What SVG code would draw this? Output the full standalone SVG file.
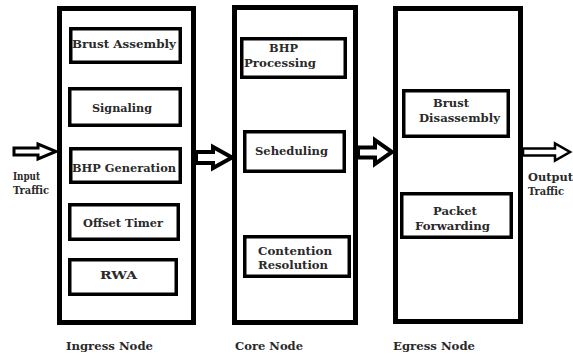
<svg xmlns="http://www.w3.org/2000/svg" width="573" height="358" viewBox="0 0 573 358">
<style>
.outer{fill:#fff;stroke:#000;stroke-width:5}
.inner{fill:#fff;stroke:#000;stroke-width:3.5}
.arrow{fill:#fff;stroke:#000;stroke-linejoin:miter}
.t{font-family:'DejaVu Serif',serif;font-weight:bold;font-size:11.5px;fill:#2a2a2a}
</style>
<rect width="573" height="358" fill="#fff"/>
<g id="ingress">
<rect class="outer" x="59.5" y="8.5" width="134" height="314"/>
<text class="t" x="66" y="350" textLength="87" lengthAdjust="spacingAndGlyphs">Ingress Node</text>
</g>
<g id="brust-assembly">
<rect class="inner" x="70.75" y="28.75" width="109.5" height="33.5"/>
<text class="t" x="72" y="48" textLength="104" lengthAdjust="spacingAndGlyphs">Brust Assembly</text>
</g>
<g id="signaling">
<rect class="inner" x="69.75" y="88.75" width="110.5" height="36.5"/>
<text class="t" x="92" y="112" textLength="60" lengthAdjust="spacingAndGlyphs">Signaling</text>
</g>
<g id="bhp-generation">
<rect class="inner" x="70.75" y="148.75" width="109.5" height="33.5"/>
<text class="t" x="72" y="172" textLength="104" lengthAdjust="spacingAndGlyphs">BHP Generation</text>
</g>
<g id="offset-timer">
<rect class="inner" x="69.75" y="204.75" width="108.5" height="34.5"/>
<text class="t" x="83" y="227" textLength="80" lengthAdjust="spacingAndGlyphs">Offset Timer</text>
</g>
<g id="rwa">
<rect class="inner" x="69.75" y="259.75" width="106.5" height="34.5"/>
<text class="t" x="100" y="279" textLength="37" lengthAdjust="spacingAndGlyphs">RWA</text>
</g>
<g id="core">
<rect class="outer" x="234.5" y="7.5" width="121" height="315"/>
<text class="t" x="235" y="350" textLength="68" lengthAdjust="spacingAndGlyphs">Core Node</text>
</g>
<g id="bhp-processing">
<rect class="inner" x="241.75" y="38.75" width="103.5" height="38.5"/>
<text class="t" x="269" y="52" textLength="29" lengthAdjust="spacingAndGlyphs">BHP</text>
<text class="t" x="244" y="67" textLength="72" lengthAdjust="spacingAndGlyphs">Processing</text>
</g>
<g id="seheduling">
<rect class="inner" x="244.75" y="131.75" width="99.5" height="39.5"/>
<text class="t" x="255" y="155" textLength="73" lengthAdjust="spacingAndGlyphs">Seheduling</text>
</g>
<g id="contention-resolution">
<rect class="inner" x="244.75" y="236.75" width="104.5" height="39.5"/>
<text class="t" x="258" y="255" textLength="74" lengthAdjust="spacingAndGlyphs">Contention</text>
<text class="t" x="258" y="269" textLength="70" lengthAdjust="spacingAndGlyphs">Resolution</text>
</g>
<g id="egress">
<rect class="outer" x="395.5" y="8.5" width="125" height="313"/>
<text class="t" x="393" y="350" textLength="82" lengthAdjust="spacingAndGlyphs">Egress Node</text>
</g>
<g id="brust-disassembly">
<rect class="inner" x="403.75" y="90.75" width="104.5" height="45.5"/>
<text class="t" x="433" y="107" textLength="36" lengthAdjust="spacingAndGlyphs">Brust</text>
<text class="t" x="419" y="122" textLength="81" lengthAdjust="spacingAndGlyphs">Disassembly</text>
</g>
<g id="packet-forwarding">
<rect class="inner" x="401.75" y="193.75" width="109.5" height="43.5"/>
<text class="t" x="433" y="215" textLength="44" lengthAdjust="spacingAndGlyphs">Packet</text>
<text class="t" x="415" y="230" textLength="75" lengthAdjust="spacingAndGlyphs">Forwarding</text>
</g>
<g id="input-label">
<text class="t" x="13" y="180" textLength="27" lengthAdjust="spacingAndGlyphs">Input</text>
<text class="t" x="13" y="194" textLength="36" lengthAdjust="spacingAndGlyphs">Traffic</text>
</g>
<g id="output-label">
<text class="t" x="528" y="181" textLength="45" lengthAdjust="spacingAndGlyphs">Output</text>
<text class="t" x="528" y="195" textLength="36" lengthAdjust="spacingAndGlyphs">Traffic</text>
</g>
<g id="connectors">
<polygon class="arrow" stroke-width="3" points="14,148 38,148 38,144 56,151.5 38,159 38,155 14,155"/>
<polygon class="arrow" stroke-width="4" points="196,152 213,152 213,147 232,157.5 213,168 213,163 196,163"/>
<polygon class="arrow" stroke-width="4" points="358,147.5 375,147.5 375,140 392,152 375,164 375,157.5 358,157.5"/>
<polygon class="arrow" stroke-width="2.5" points="523,148.5 555,148.5 555,143.5 570,152 555,160.5 555,155.5 523,155.5"/>
</g>
</svg>
